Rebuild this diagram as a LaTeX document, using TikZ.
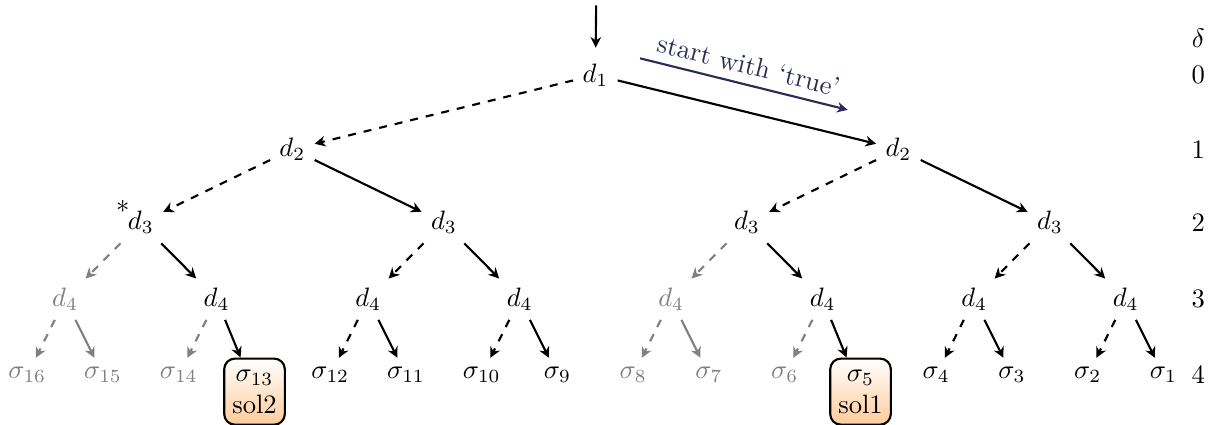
\documentclass[tikz,border=0pt]{standalone}
\usetikzlibrary{positioning, calc, arrows.meta}
\definecolor{navy}{RGB}{40,45,85}

\begin{document}
\begin{tikzpicture}[
            var/.style={},
            leaf/.style={},
            pruned/.style={gray},
            yes/.style={-{Stealth[length=4pt, width=4pt, inset=1.3pt]}, thick},
            no/.style={yes, dashed},
            sol/.style={draw, thick, rounded corners=4pt, top color=white, bottom color=orange!40, align=center, inner xsep=2pt, inner ysep=4.2pt, minimum width=0.8cm},
            lvl/.style={}
        ]
            \useasboundingbox (0,0) rectangle (16,-5.6);

            % Decision variables
            \node[var] (d1) at (7.86,-0.99) {$d_1$};
            \node[var] (d2a) at (3.86,-1.97) {$d_2$};
            \node[var] (d2b) at (11.86,-1.97) {$d_2$};
            \node[var] (d3a) at (1.86,-2.94) {$d_3$};
            \node[var] (d3b) at (5.86,-2.94) {$d_3$};
            \node[var] (d3c) at (9.86,-2.94) {$d_3$};
            \node[var] (d3d) at (13.86,-2.94) {$d_3$};
            \node[var, pruned] (d4a) at (0.86,-3.95) {$d_4$};
            \node[var] (d4b) at (2.86,-3.95) {$d_4$};
            \node[var] (d4c) at (4.86,-3.95) {$d_4$};
            \node[var] (d4d) at (6.86,-3.95) {$d_4$};
            \node[var, pruned] (d4e) at (8.86,-3.95) {$d_4$};
            \node[var] (d4f) at (10.86,-3.95) {$d_4$};
            \node[var] (d4g) at (12.86,-3.95) {$d_4$};
            \node[var] (d4h) at (14.86,-3.95) {$d_4$};
            \node (ast) at ($(d3a)+(-0.24,0.16)$) {*};

            % Leaves
            \node[leaf, pruned] (s16) at (0.36,-4.95) {$\sigma_{16}$};
            \node[leaf, pruned] (s15) at (1.36,-4.95) {$\sigma_{15}$};
            \node[leaf, pruned] (s14) at (2.36,-4.95) {$\sigma_{14}$};
            \node[sol, anchor=north] (s13) at (3.36,-4.72) {$\sigma_{13}$\\sol2};
            \node[leaf] (s12) at (4.36,-4.95) {$\sigma_{12}$};
            \node[leaf] (s11) at (5.36,-4.95) {$\sigma_{11}$};
            \node[leaf] (s10) at (6.36,-4.95) {$\sigma_{10}$};
            \node[leaf] (s9) at (7.36,-4.95) {$\sigma_{9}$};
            \node[leaf, pruned] (s8) at (8.36,-4.95) {$\sigma_{8}$};
            \node[leaf, pruned] (s7) at (9.36,-4.95) {$\sigma_{7}$};
            \node[leaf, pruned] (s6) at (10.36,-4.95) {$\sigma_{6}$};
            \node[sol, anchor=north] (s5) at (11.36,-4.72) {$\sigma_{5}$\\sol1};
            \node[leaf] (s4) at (12.36,-4.95) {$\sigma_{4}$};
            \node[leaf] (s3) at (13.36,-4.95) {$\sigma_{3}$};
            \node[leaf] (s2) at (14.36,-4.95) {$\sigma_{2}$};
            \node[leaf] (s1) at (15.36,-4.95) {$\sigma_{1}$};

            % Level numbers
            \node[lvl] (dl) at (15.82,-0.5) {$\delta$};
            \node[lvl] (l0) at (15.82,-0.99) {0};
            \node[lvl] (l1) at (15.82,-1.97) {1};
            \node[lvl] (l2) at (15.82,-2.94) {2};
            \node[lvl] (l3) at (15.82,-3.95) {3};
            \node[lvl] (l4) at (15.82,-4.95) {4};

            % Entry arrow
            \coordinate (in) at (7.87,-0.07);
            \draw[yes, shorten >=2.5pt] (in) -- (d1);

            % Start hint
            \coordinate (h0) at (8.45,-0.77);
            \coordinate (h1) at (11.19,-1.45);
            \draw[yes, navy] (h0) -- (h1) node[midway, above, sloped, navy] {start with `true'};

            % Branches
            \draw[no] (d1) -- (d2a);
            \draw[yes] (d1) -- (d2b);
            \draw[no] (d2a) -- (d3a);
            \draw[yes] (d2a) -- (d3b);
            \draw[no] (d2b) -- (d3c);
            \draw[yes] (d2b) -- (d3d);
            \draw[no, pruned] (d3a) -- (d4a);
            \draw[yes] (d3a) -- (d4b);
            \draw[no] (d3b) -- (d4c);
            \draw[yes] (d3b) -- (d4d);
            \draw[no, pruned] (d3c) -- (d4e);
            \draw[yes] (d3c) -- (d4f);
            \draw[no] (d3d) -- (d4g);
            \draw[yes] (d3d) -- (d4h);
            \draw[no, pruned] (d4a) -- (s16);
            \draw[yes, pruned] (d4a) -- (s15);
            \draw[no, pruned] (d4b) -- (s14);
            \draw[yes] (d4b) -- (s13);
            \draw[no] (d4c) -- (s12);
            \draw[yes] (d4c) -- (s11);
            \draw[no] (d4d) -- (s10);
            \draw[yes] (d4d) -- (s9);
            \draw[no, pruned] (d4e) -- (s8);
            \draw[yes, pruned] (d4e) -- (s7);
            \draw[no, pruned] (d4f) -- (s6);
            \draw[yes] (d4f) -- (s5);
            \draw[no] (d4g) -- (s4);
            \draw[yes] (d4g) -- (s3);
            \draw[no] (d4h) -- (s2);
            \draw[yes] (d4h) -- (s1);
        \end{tikzpicture}
\end{document}
